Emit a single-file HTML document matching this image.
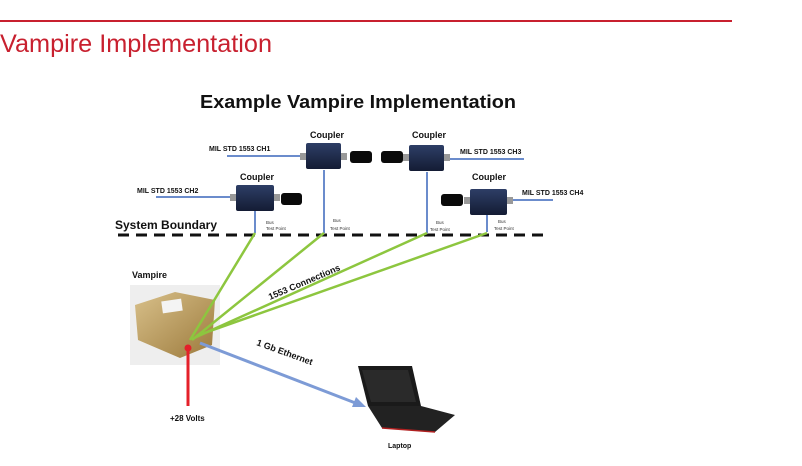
<!DOCTYPE html>
<html><head><style>
html,body{margin:0;padding:0;background:#fff;}
body{width:802px;height:461px;overflow:hidden;position:relative;font-family:"Liberation Sans",sans-serif;}
</style></head><body>
<svg width="802" height="461" viewBox="0 0 802 461" xmlns="http://www.w3.org/2000/svg" font-family="Liberation Sans, sans-serif">
<defs>
<linearGradient id="gold" x1="0" y1="0" x2="1" y2="1"><stop offset="0" stop-color="#d8c08a"/><stop offset="1" stop-color="#9c7a3c"/></linearGradient>
<linearGradient id="cb" x1="0" y1="0" x2="0" y2="1"><stop offset="0" stop-color="#2e3e66"/><stop offset="1" stop-color="#141c34"/></linearGradient>
</defs>
<line x1="0" y1="21" x2="732" y2="21" stroke="#c8202f" stroke-width="2"/>
<text x="0" y="52" font-size="25" fill="#c8202f" font-weight="300" textLength="272" lengthAdjust="spacingAndGlyphs">Vampire Implementation</text>
<text x="200" y="108" font-size="18" font-weight="bold" fill="#111" textLength="316" lengthAdjust="spacingAndGlyphs">Example Vampire Implementation</text>
<g font-size="9" font-weight="bold" fill="#111">
<text x="327" y="138" text-anchor="middle">Coupler</text>
<text x="257" y="180" text-anchor="middle">Coupler</text>
<text x="429" y="138" text-anchor="middle">Coupler</text>
<text x="489" y="180" text-anchor="middle">Coupler</text>
</g>
<g font-size="7" font-weight="bold" fill="#111">
<text x="209" y="151">MIL STD 1553 CH1</text>
<text x="137" y="193">MIL STD 1553 CH2</text>
<text x="460" y="154">MIL STD 1553 CH3</text>
<text x="522" y="195">MIL STD 1553 CH4</text>
</g>
<g stroke="#6b8ccc" stroke-width="2">
<line x1="227" y1="156" x2="304" y2="156"/>
<line x1="156" y1="197" x2="234" y2="197"/>
<line x1="444" y1="159" x2="524" y2="159"/>
<line x1="508" y1="200" x2="553" y2="200"/>
<line x1="255" y1="210" x2="255" y2="233"/>
<line x1="324" y1="170" x2="324" y2="233"/>
<line x1="427" y1="172" x2="427" y2="233"/>
<line x1="487" y1="215" x2="487" y2="232"/>
</g>
<g fill="url(#cb)">
<rect x="306" y="143" width="35" height="26" rx="2"/>
<rect x="236" y="185" width="38" height="26" rx="2"/>
<rect x="409" y="145" width="35" height="26" rx="2"/>
<rect x="470" y="189" width="37" height="26" rx="2"/>
</g>
<g fill="#999">
<rect x="300" y="153" width="6" height="7"/><rect x="341" y="153" width="6" height="7"/>
<rect x="230" y="194" width="6" height="7"/><rect x="274" y="194" width="6" height="7"/>
<rect x="403" y="154" width="6" height="7"/><rect x="444" y="154" width="6" height="7"/>
<rect x="464" y="197" width="6" height="7"/><rect x="507" y="197" width="6" height="7"/>
</g>
<g fill="#0a0a0a">
<rect x="350" y="151" width="22" height="12" rx="3"/>
<rect x="381" y="151" width="22" height="12" rx="3"/>
<rect x="281" y="193" width="21" height="12" rx="3"/>
<rect x="441" y="194" width="22" height="12" rx="3"/>
</g>
<g font-size="4.5" fill="#333">
<text x="266" y="224">Bus</text><text x="266" y="230">Test Point</text>
<text x="333" y="222">Bus</text><text x="330" y="230">Test Point</text>
<text x="436" y="224">Bus</text><text x="430" y="231">Test Point</text>
<text x="498" y="223">Bus</text><text x="494" y="230">Test Point</text>
</g>
<text x="115" y="229" font-size="12" font-weight="bold" fill="#111">System Boundary</text>
<line x1="118" y1="235" x2="548" y2="235" stroke="#111" stroke-width="3" stroke-dasharray="11,7"/>
<rect x="130" y="285" width="90" height="80" fill="#eeeeee"/>
<path d="M135 305 L175 292 L215 300 L212 345 L180 358 L138 340 Z" fill="url(#gold)"/>
<rect x="162" y="300" width="20" height="12" fill="#f4f4f4" transform="rotate(-8 172 306)"/>
<text x="132" y="278" font-size="9" font-weight="bold" fill="#111">Vampire</text>
<g stroke="#8dc63f" stroke-width="2.5">
<line x1="255" y1="233" x2="190" y2="340"/>
<line x1="324" y1="233" x2="192" y2="340"/>
<line x1="427" y1="233" x2="194" y2="338"/>
<line x1="487" y1="233" x2="196" y2="336"/>
</g>
<text x="270" y="300" font-size="9" font-weight="bold" fill="#111" transform="rotate(-23 270 300)">1553 Connections</text>
<line x1="200" y1="343" x2="358" y2="404" stroke="#7d9bd6" stroke-width="3"/>
<polygon points="366,407 352,407 356,397" fill="#7d9bd6"/>
<text x="256" y="345" font-size="9" font-weight="bold" fill="#111" transform="rotate(20 256 345)">1 Gb Ethernet</text>
<line x1="188" y1="348" x2="188" y2="406" stroke="#e4202a" stroke-width="3"/>
<circle cx="188" cy="348" r="3.5" fill="#e4202a"/>
<text x="170" y="421" font-size="8" font-weight="bold" fill="#111">+28 Volts</text>
<polygon points="358,366 412,366 421,406 368,406" fill="#1a1a1a"/>
<polygon points="362,370 408,370 416,402 371,402" fill="#2a2a2a"/>
<polygon points="368,406 421,406 455,415 435,432 382,428" fill="#222"/>
<line x1="382" y1="428" x2="435" y2="432" stroke="#b02020" stroke-width="1.5"/>
<text x="388" y="448" font-size="7" font-weight="bold" fill="#111">Laptop</text>
</svg>
</body></html>
